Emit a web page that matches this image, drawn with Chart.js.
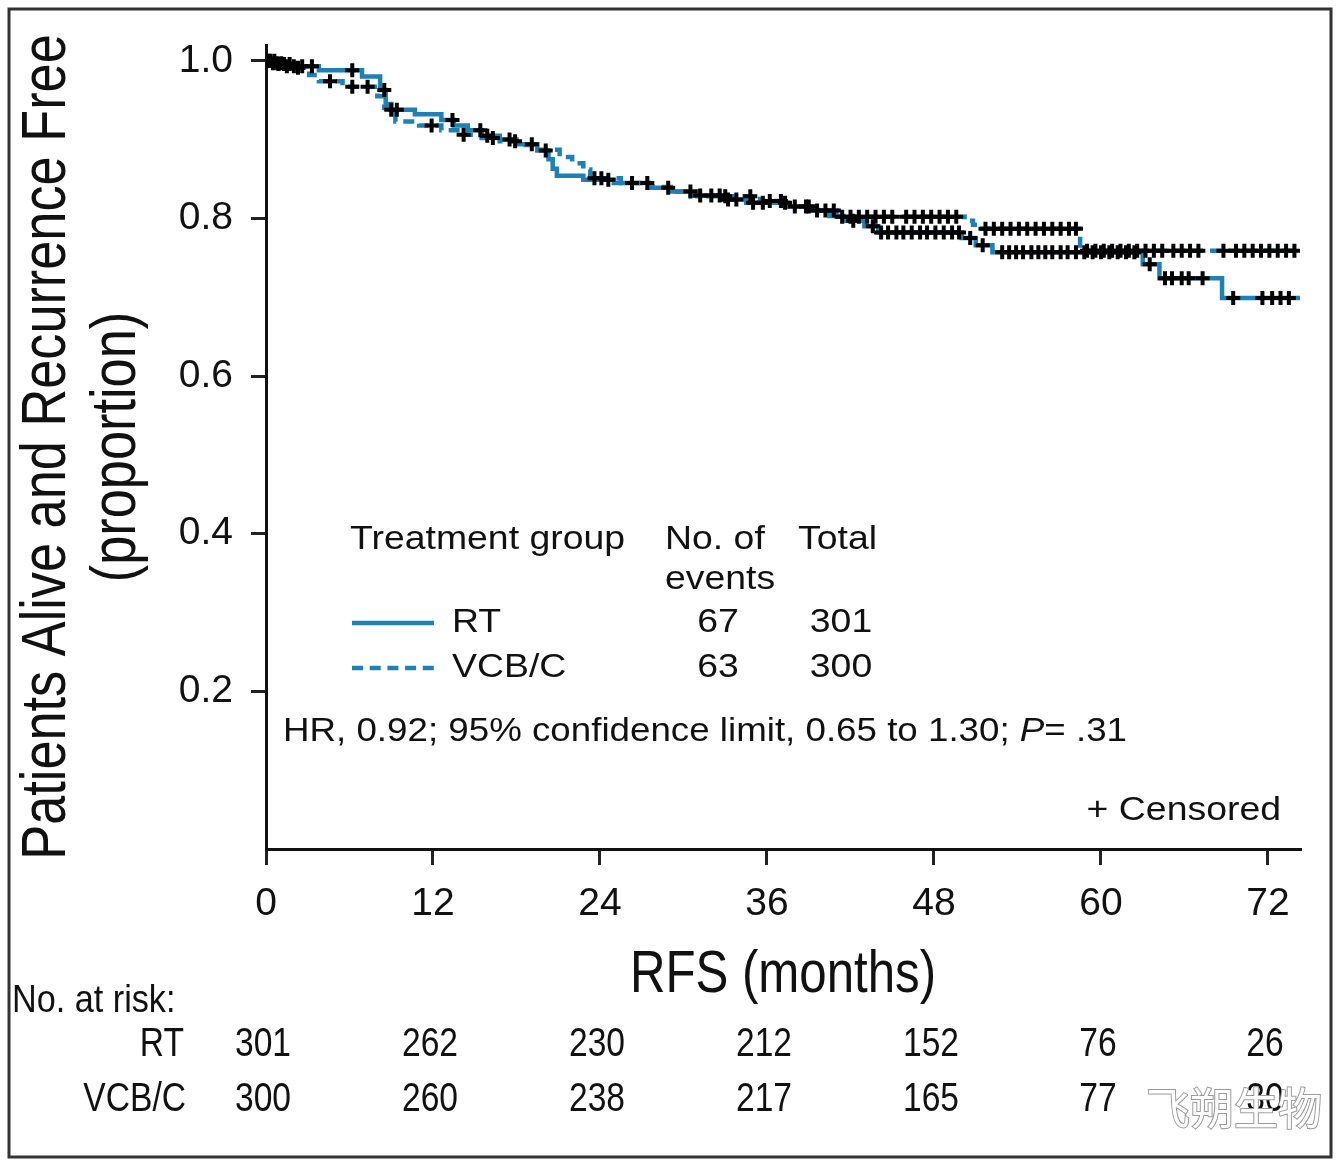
<!DOCTYPE html>
<html>
<head>
<meta charset="utf-8">
<script src="https://cdn.jsdelivr.net/npm/chart.js@4.4.0/dist/chart.umd.min.js"></script>
<style>
  body { margin: 0; background: #fff; }
  #wrap { width: 1339px; height: 1161px; position: relative; }
</style>
</head>
<body>
<div id="wrap"><canvas id="km"></canvas></div>
<script>
// Kaplan-Meier steps: month of drop, proportion after drop
var rtTimes = [0, 0.5, 1.2, 3.8, 6.9, 8.2, 8.6, 9.0, 10.7, 12.6, 13.5, 14.5, 15.5, 16.8, 18.0, 19.5, 20.3, 20.6, 20.9, 22.8,
  25.0, 27.5, 29.0, 30.5, 32.8, 34.5, 37.5, 39.0, 40.5, 41.5, 43.0, 44.0, 50.0, 51.0, 52.2, 63.0, 64.2, 68.7];
var rtSurv = [1.0, 0.997, 0.993, 0.988, 0.980, 0.963, 0.945, 0.938, 0.932, 0.925, 0.918, 0.912, 0.905, 0.900, 0.894, 0.886, 0.875, 0.863, 0.854, 0.849,
  0.845, 0.839, 0.834, 0.829, 0.824, 0.820, 0.815, 0.810, 0.803, 0.797, 0.790, 0.782, 0.775, 0.766, 0.757, 0.742, 0.724, 0.699];

var vcbTimes = [0, 0.8, 2.1, 3.1, 3.8, 5.5, 8.0, 8.5, 9.3, 11.0, 12.6, 14.0, 15.5, 16.8, 18.0, 19.5, 21.1, 22.0, 22.8, 23.3,
  25.5, 27.5, 29.5, 31.0, 35.5, 37.6, 39.5, 41.0, 50.2, 50.8, 51.3, 58.5];
var vcbSurv = [1.0, 0.996, 0.991, 0.982, 0.974, 0.967, 0.955, 0.940, 0.923, 0.918, 0.912, 0.906, 0.902, 0.898, 0.893, 0.887, 0.878, 0.870, 0.862, 0.851,
  0.845, 0.840, 0.834, 0.828, 0.822, 0.815, 0.810, 0.802, 0.797, 0.792, 0.787, 0.759];

// censored observations (months)
var rtCensor = [0.2, 0.5, 0.8, 1.1, 1.5, 2.0, 2.6, 3.3, 6.2, 8.5, 9.0, 9.4, 13.4, 15.4, 15.9, 17.5, 19.1, 20.1, 24.6, 26.3,
  28.9, 31.2, 32.0, 32.6, 33.2, 33.8, 35.0, 35.7, 37.3, 38.0, 38.8, 39.6, 42.2, 43.6, 44.2, 44.7, 45.3, 45.8, 46.4, 47.0,
  47.5, 48.1, 48.7, 49.3, 49.8, 50.6, 51.5, 52.9, 53.4, 53.9, 54.4, 55.0, 55.5, 56.0, 56.5, 57.1, 57.6, 58.2, 58.8, 59.4,
  60.0, 60.6, 61.2, 61.8, 62.4, 63.5, 64.6, 65.1, 65.8, 66.3, 67.3, 69.5, 71.6, 72.3, 72.9, 73.5];
var vcbCensor = [0.3, 0.6, 0.9, 1.3, 1.7, 2.3, 4.6, 6.2, 7.3, 11.9, 14.2, 16.3, 17.9, 23.6, 24.1, 27.4, 30.5, 33.0, 34.8, 36.2,
  37.0, 39.0, 40.2, 40.8, 41.4, 42.0, 42.6, 43.2, 43.8, 44.4, 45.0, 46.0, 46.6, 47.2, 47.8, 48.4, 49.0, 49.6, 51.7, 52.3,
  52.9, 53.5, 54.1, 54.7, 55.3, 55.9, 56.5, 57.1, 57.7, 58.2, 59.0, 59.6, 60.2, 60.8, 61.4, 62.0, 62.6, 63.2, 63.8, 64.4,
  65.2, 65.8, 66.4, 67.0, 68.8, 69.7, 70.3, 70.9, 71.5, 72.1, 72.7, 73.3, 73.9];

var xTicks = [0, 12, 24, 36, 48, 60, 72];
var riskRT = [301, 262, 230, 212, 152, 76, 26];
var riskVCB = [300, 260, 238, 217, 165, 77, 30];
var groups = ['RT', 'VCB/C'];
var events = [67, 63];
var totals = [301, 300];

var X_MAX = 74.3;
var BLUE = '#1e80b5';
var FONT = '"Liberation Sans", Arial, Helvetica, sans-serif';

function curve(times, surv) {
  var pts = times.map(function (t, i) { return { x: t, y: surv[i] }; });
  pts.push({ x: X_MAX, y: surv[surv.length - 1] });
  return pts;
}

function valueAt(times, surv, t) {
  var v = surv[0];
  for (var i = 0; i < times.length; i++) {
    if (times[i] <= t) v = surv[i];
  }
  return v;
}

function marks(cens, times, surv) {
  return cens.map(function (t) { return { x: t, y: valueAt(times, surv, t) }; });
}

function txt(ctx, s, x, y, size, align, sx, style) {
  ctx.save();
  ctx.translate(x, y);
  ctx.scale(sx || 1, 1);
  ctx.font = (style || '') + ' ' + size + 'px ' + FONT;
  ctx.textAlign = align || 'left';
  ctx.textBaseline = 'middle';
  ctx.fillStyle = '#111';
  ctx.fillText(s, 0, 0);
  ctx.restore();
}

function width(ctx, s, size, sx, style) {
  ctx.save();
  ctx.font = (style || '') + ' ' + size + 'px ' + FONT;
  var w = ctx.measureText(s).width * (sx || 1);
  ctx.restore();
  return w;
}

var extras = {
  id: 'extras',
  afterDraw: function (chart) {
    var ctx = chart.ctx;
    var xs = chart.scales.x;

    // frame
    ctx.save();
    ctx.strokeStyle = '#333';
    ctx.lineWidth = 3;
    ctx.strokeRect(9, 9, 1322, 1148);
    ctx.restore();

    // y axis title, two lines
    [['Patients Alive and Recurrence Free', 48], ['(proportion)', 118]].forEach(function (l) {
      ctx.save();
      ctx.translate(l[1], 447);
      ctx.rotate(-Math.PI / 2);
      ctx.scale(0.83, 1);
      ctx.font = '63px ' + FONT;
      ctx.textAlign = 'center';
      ctx.textBaseline = 'middle';
      ctx.fillStyle = '#111';
      ctx.fillText(l[0], 0, 0);
      ctx.restore();
    });

    // x axis title
    txt(ctx, 'RFS (months)', 783, 975, 60, 'center', 0.82);

    // legend table
    var ls = 34, lsx = 1.1;
    txt(ctx, 'Treatment group', 350, 540, ls, 'left', lsx);
    txt(ctx, 'No. of', 665, 540, ls, 'left', lsx);
    txt(ctx, 'events', 665, 580, ls, 'left', lsx);
    txt(ctx, 'Total', 798, 540, ls, 'left', lsx);
    var rows = [623, 668];
    groups.forEach(function (g, i) {
      ctx.save();
      ctx.strokeStyle = BLUE;
      ctx.lineWidth = 4.5;
      if (i === 1) ctx.setLineDash([11, 6.7]);
      ctx.beginPath();
      ctx.moveTo(352, rows[i]);
      ctx.lineTo(434, rows[i]);
      ctx.stroke();
      ctx.restore();
      txt(ctx, g, 452, rows[i], ls, 'left', lsx);
      txt(ctx, String(events[i]), 718, rows[i], ls, 'center', lsx);
      txt(ctx, String(totals[i]), 841, rows[i], ls, 'center', lsx);
    });

    // hazard ratio line with italic P
    var s1 = 'HR, 0.92; 95% confidence limit, 0.65 to 1.30; ';
    var hx = 283, hy = 732;
    txt(ctx, s1, hx, hy, ls, 'left', 1.08);
    hx += width(ctx, s1, ls, 1.08);
    txt(ctx, 'P', hx, hy, ls, 'left', 1.08, 'italic');
    hx += width(ctx, 'P', ls, 1.08, 'italic');
    txt(ctx, '= .31', hx, hy, ls, 'left', 1.08);

    txt(ctx, '+ Censored', 1281, 811, ls, 'right', lsx);

    // number at risk
    var rs = 40, rsx = 0.84;
    txt(ctx, 'No. at risk:', 12, 1002, 38, 'left', 0.9);
    txt(ctx, groups[0], 184, 1045, rs, 'right', rsx);
    txt(ctx, groups[1], 186, 1100, rs, 'right', rsx);
    xTicks.forEach(function (t, i) {
      var px = xs.getPixelForValue(t) - 3;
      txt(ctx, String(riskRT[i]), px, 1045, rs, 'center', rsx);
      txt(ctx, String(riskVCB[i]), px, 1100, rs, 'center', rsx);
    });

    // watermark
    ctx.save();
    ctx.font = '44px "Noto Sans CJK SC", sans-serif';
    ctx.textAlign = 'left';
    ctx.textBaseline = 'middle';
    ctx.lineWidth = 2;
    ctx.strokeStyle = '#9a9a9a';
    ctx.fillStyle = '#ffffff';
    ctx.strokeText('飞朔生物', 1146, 1108);
    ctx.fillText('飞朔生物', 1146, 1108);
    ctx.restore();
  }
};

var ctx = document.getElementById('km').getContext('2d');
var grafico = new Chart(ctx, {
  type: 'scatter',
  data: {
    datasets: [
      {
        label: 'RT',
        data: curve(rtTimes, rtSurv),
        order: 2,
        showLine: true,
        stepped: true,
        borderColor: BLUE,
        borderWidth: 4.5,
        pointRadius: 0,
        fill: false
      },
      {
        label: 'VCB/C',
        data: curve(vcbTimes, vcbSurv),
        order: 2,
        showLine: true,
        stepped: true,
        borderColor: BLUE,
        borderWidth: 4.5,
        borderDash: [11, 7],
        pointRadius: 0,
        fill: false
      },
      {
        label: 'RT censored',
        data: marks(rtCensor, rtTimes, rtSurv),
        order: 1,
        showLine: false,
        pointStyle: 'cross',
        pointRadius: 7,
        borderWidth: 4,
        borderColor: '#000',
        backgroundColor: '#000'
      },
      {
        label: 'VCB/C censored',
        data: marks(vcbCensor, vcbTimes, vcbSurv),
        order: 1,
        showLine: false,
        pointStyle: 'cross',
        pointRadius: 7,
        borderWidth: 4,
        borderColor: '#000',
        backgroundColor: '#000'
      }
    ]
  },
  options: {
    responsive: true,
    maintainAspectRatio: false,
    animation: false,
    events: [],
    layout: { padding: { left: 0, top: 45, right: 39, bottom: 0 } },
    plugins: {
      legend: { display: false },
      tooltip: { enabled: false }
    },
    scales: {
      x: {
        type: 'linear',
        min: 0,
        max: X_MAX,
        afterFit: function (s) { s.height = 312; },
        afterBuildTicks: function (s) {
          s.ticks = xTicks.map(function (v) { return { value: v }; });
        },
        ticks: {
          stepSize: 12,
          includeBounds: false,
          padding: 16,
          color: '#111',
          font: { size: 39, family: FONT },
          maxRotation: 0
        },
        grid: { drawOnChartArea: false, drawTicks: true, tickLength: 16, lineWidth: 3, color: '#222' },
        border: { display: true, width: 3, color: '#111' }
      },
      y: {
        type: 'linear',
        min: 0,
        max: 1.02,
        afterFit: function (s) { s.width = 266; },
        afterBuildTicks: function (s) {
          s.ticks = s.ticks.filter(function (t) { return t.value > 0.01; });
        },
        ticks: {
          stepSize: 0.2,
          includeBounds: false,
          padding: 18,
          color: '#111',
          font: { size: 39, family: FONT },
          callback: function (v) { return v.toFixed(1); }
        },
        grid: { drawOnChartArea: false, drawTicks: true, tickLength: 15, lineWidth: 3, color: '#222' },
        border: { display: true, width: 3, color: '#111' }
      }
    }
  },
  plugins: [extras]
});
</script>
</body>
</html>
